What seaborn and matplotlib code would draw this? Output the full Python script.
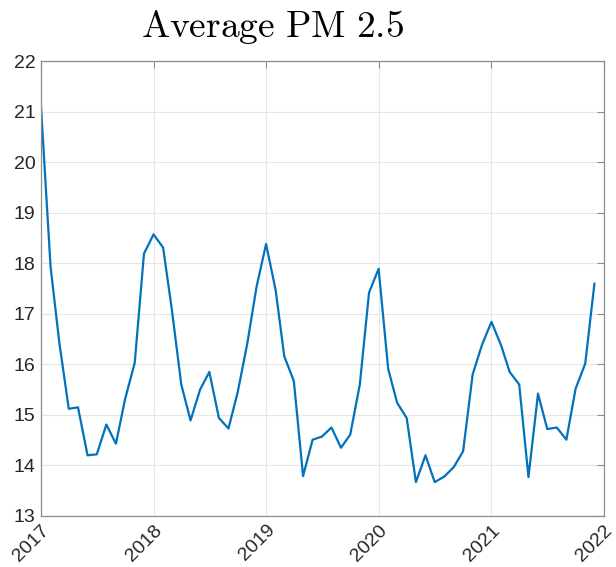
import numpy as np
import pandas as pd
import matplotlib
matplotlib.use("Agg")
import matplotlib.pyplot as plt
import matplotlib.dates as mdates
import seaborn as sns

# ---- data ----
start_month = "2017-01-01"
pm25 = [21.10, 17.93, 16.45, 15.12, 15.15, 14.20, 14.22, 14.81, 14.43, 15.32, 16.03, 18.19,
        18.57, 18.31, 17.10, 15.60, 14.89, 15.50, 15.85, 14.94, 14.73, 15.45, 16.41, 17.53,
        18.38, 17.47, 16.16, 15.67, 13.79, 14.51, 14.57, 14.75, 14.35, 14.61, 15.60, 17.42,
        17.89, 15.91, 15.24, 14.94, 13.67, 14.20, 13.67, 13.78, 13.97, 14.28, 15.80, 16.38,
        16.84, 16.38, 15.85, 15.60, 13.77, 15.42, 14.72, 14.75, 14.51, 15.52, 16.01, 17.60]
years = [2017, 2018, 2019, 2020, 2021, 2022]
yticks = [13, 14, 15, 16, 17, 18, 19, 20, 21, 22]
title = "Average PM 2.5"

dates = pd.date_range(start_month, periods=len(pm25), freq="MS")
df = pd.DataFrame({"date": dates, "pm25": pm25})

sns.set_style("white")
plt.rcParams["font.family"] = ["Liberation Sans", "DejaVu Sans"]
plt.rcParams["mathtext.fontset"] = "cm"

fig = plt.figure(figsize=(6.16, 5.67), dpi=100)
ax = fig.add_axes([41/616, 1-516/567, (604-41)/616, (516-61)/567])

sns.lineplot(data=df, x="date", y="pm25", ax=ax, color="#0072BD", linewidth=1.6)

ax.set_xlim(pd.Timestamp(f"{years[0]}-01-01"), pd.Timestamp(f"{years[-1]}-01-01"))
ax.set_ylim(yticks[0], yticks[-1])
ax.set_xticks([pd.Timestamp(f"{y}-01-01") for y in years])
ax.set_xticklabels([str(y) for y in years], rotation=45, ha="right",
                   rotation_mode="anchor", fontsize=14, color="#262626")
ax.set_yticks(yticks)
ax.set_yticklabels([str(v) for v in yticks], fontsize=14, color="#262626")
ax.set_xlabel("")
ax.set_ylabel("")

ax.grid(True, color="#e6e6e6", linewidth=0.8)
ax.set_axisbelow(True)
for s in ax.spines.values():
    s.set_visible(True)
    s.set_color("#8c8c8c")
    s.set_linewidth(0.9)
ax.tick_params(axis="both", direction="in", length=5, width=0.8, color="#8c8c8c",
               top=True, right=True, pad=4)

fig.text(273/616, 1-37/567, r"$\mathrm{Average\ PM\ 2.5}$", fontsize=27,
         ha="center", va="baseline", color="black")

fig.savefig("out.png", dpi=100)
